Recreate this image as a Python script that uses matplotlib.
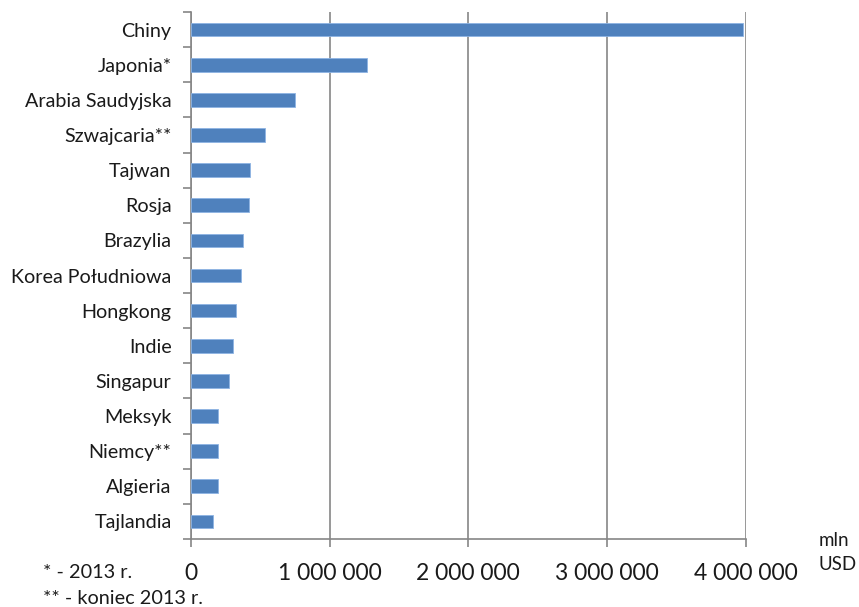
import matplotlib
matplotlib.use("Agg")
import matplotlib.pyplot as plt
import numpy as np

categories = ["Chiny", "Japonia*", "Arabia Saudyjska", "Szwajcaria**", "Tajwan", "Rosja",
              "Brazylia", "Korea Południowa", "Hongkong", "Indie", "Singapur", "Meksyk",
              "Niemcy**", "Algieria", "Tajlandia"]
values = [3980000, 1267000, 750000, 536000, 425000, 415000,
          377000, 360000, 323000, 302000, 276000, 194000,
          194000, 194000, 157000]
xticks = [0, 1000000, 2000000, 3000000, 4000000]
xtick_labels = ["0", "1 000 000", "2 000 000", "3 000 000", "4 000 000"]

plt.rcParams['font.family'] = ['Lato', 'DejaVu Sans']

W, H = 859, 607
fig = plt.figure(figsize=(W/100, H/100), dpi=100)
ax = fig.add_axes([191/W, 1-539/H, (745.7-191)/W, (539-12)/H])

y = np.arange(len(categories))
ax.barh(y, values, height=0.39, color="#4F81BD", edgecolor="#8EB4E3", linewidth=0.6, zorder=3)
ax.set_ylim(len(categories)-0.5, -0.5)
ax.set_xlim(0, 4000000)

ax.set_xticks(xticks)
ax.set_xticklabels(xtick_labels, fontsize=16.5, color="#1a1a1a")
ax.set_yticks(y)
ax.set_yticklabels(categories, fontsize=14.2, color="#1a1a1a")
ax.tick_params(axis='y', length=0, pad=14)
ax.set_yticks(np.arange(-0.5, len(categories), 1), minor=True)
ax.tick_params(axis='y', which='minor', length=6, width=1.2, color="#868686", direction='out')
ax.tick_params(axis='x', length=6, width=1.2, color="#868686", direction='out', pad=11)

ax.grid(axis='x', color="#868686", linewidth=1.2, zorder=0)
for s in ['top', 'right']:
    ax.spines[s].set_visible(False)
for s in ['left', 'bottom']:
    ax.spines[s].set_color("#868686")
    ax.spines[s].set_linewidth(1.2)

fig.text(43/W, 1-573/H, "* - 2013 r.", fontsize=14.3, va='center', ha='left', color="#1a1a1a")
fig.text(43/W, 1-598/H, "** - koniec 2013 r.", fontsize=14.3, va='center', ha='left', color="#1a1a1a")
fig.text(819/W, 1-540/H, "mln", fontsize=13.5, va='center', ha='left', color="#1a1a1a")
fig.text(819/W, 1-564/H, "USD", fontsize=13.5, va='center', ha='left', color="#1a1a1a")

fig.savefig("out.png", dpi=100)
